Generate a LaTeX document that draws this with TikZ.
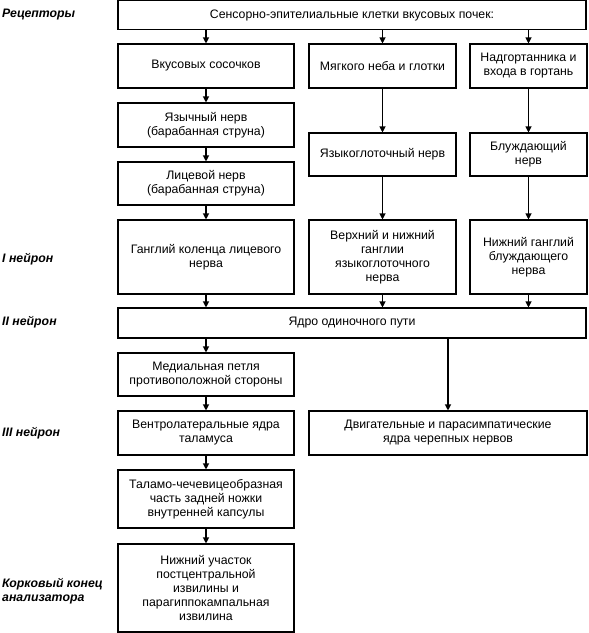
\documentclass[tikz,border=0pt]{standalone}
\usepackage{fontspec}
\setmainfont{Liberation Sans}
\usetikzlibrary{arrows.meta}
\begin{document}
\begin{tikzpicture}[x=1pt,y=-1pt,
  box/.style={draw=black, line width=1.1pt, align=center, inner sep=0pt,
    font=\fontsize{12.3}{14}\selectfont},
  lbl/.style={anchor=west, align=left, inner sep=0pt,
    font=\fontsize{12.3}{14}\selectfont\bfseries\itshape},
  arr/.style={line width=1.1pt, -{Triangle[length=6pt,width=6pt]}}]
\useasboundingbox (0,0) rectangle (589,633);
% boxes (centre, width, height)
\node[box, minimum width=468pt, minimum height=29pt] (top) at (352,15) {Сенсорно-эпителиальные клетки вкусовых почек:};
\node[box, minimum width=176pt, minimum height=44pt] (vk) at (206,66) {Вкусовых сосочков};
\node[box, minimum width=147pt, minimum height=44pt] (mn) at (382.5,66) {Мягкого неба и глотки};
\node[box, minimum width=117pt, minimum height=44pt] (ng) at (528.5,66) {Надгортанника и\\входа в гортань};
\node[box, minimum width=176pt, minimum height=44pt] (yaz) at (206,125) {Язычный нерв\\(барабанная струна)};
\node[box, minimum width=176pt, minimum height=43pt] (lic) at (206,183.5) {Лицевой нерв\\(барабанная струна)};
\node[box, minimum width=147pt, minimum height=43pt] (yg) at (382.5,154.5) {Языкоглоточный нерв};
\node[box, minimum width=117pt, minimum height=43pt] (bl) at (528.5,154.5) {Блуждающий\\нерв};
\node[box, minimum width=176pt, minimum height=74pt] (gk) at (206,257) {Ганглий коленца лицевого\\нерва};
\node[box, minimum width=147pt, minimum height=74pt] (vn) at (382.5,257) {Верхний и нижний\\ганглии\\языкоглоточного\\нерва};
\node[box, minimum width=117pt, minimum height=74pt] (nb) at (528.5,257) {Нижний ганглий\\блуждающего\\нерва};
\node[box, minimum width=468pt, minimum height=30pt] (yad) at (352,323) {Ядро одиночного пути};
\node[box, minimum width=176pt, minimum height=43pt] (med) at (206,374.5) {Медиальная петля\\противоположной стороны};
\node[box, minimum width=176pt, minimum height=44pt] (ven) at (206,433) {Вентролатеральные ядра\\таламуса};
\node[box, minimum width=278pt, minimum height=44pt] (dv) at (448,433) {Двигательные и парасимпатические\\ядра черепных нервов};
\node[box, minimum width=176pt, minimum height=58pt] (tal) at (206,499) {Таламо-чечевицеобразная\\часть задней ножки\\внутренней капсулы};
\node[box, minimum width=176pt, minimum height=88pt] (nu) at (206,588) {Нижний участок\\постцентральной\\извилины и\\парагиппокампальная\\извилина};
% labels
\node[lbl] (l1) at (2,15) {Рецепторы};
\node[lbl] (l2) at (2,259) {I нейрон};
\node[lbl] (l3) at (2,322) {II нейрон};
\node[lbl] (l4) at (2,433) {III нейрон};
\node[lbl] (l5) at (2,591) {Корковый конец\\анализатора};
% arrows
\draw[arr] (top.south -| vk.north) -- (vk.north);
\draw[arr] (top.south -| mn.north) -- (mn.north);
\draw[arr] (top.south -| ng.north) -- (ng.north);
\draw[arr] (vk) -- (yaz);
\draw[arr] (yaz) -- (lic);
\draw[arr] (lic) -- (gk);
\draw[arr] (mn) -- (yg);
\draw[arr] (yg) -- (vn);
\draw[arr] (ng) -- (bl);
\draw[arr] (bl) -- (nb);
\draw[arr] (gk.south) -- (yad.north -| gk.south);
\draw[arr] (vn.south) -- (yad.north -| vn.south);
\draw[arr] (nb.south) -- (yad.north -| nb.south);
\draw[arr] (yad.south -| med.north) -- (med.north);
\draw[arr] (yad.south -| dv.north) -- (dv.north);
\draw[arr] (med) -- (ven);
\draw[arr] (ven) -- (tal);
\draw[arr] (tal) -- (nu);
\end{tikzpicture}
\end{document}
